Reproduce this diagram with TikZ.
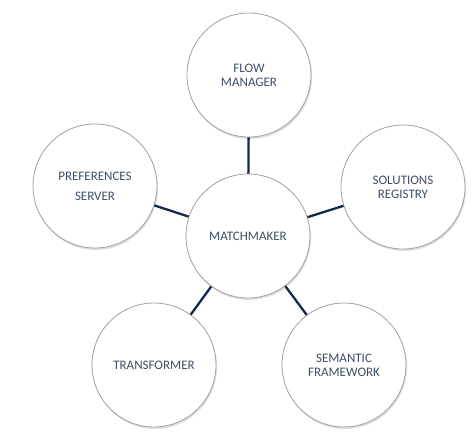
\documentclass[tikz,border=0pt]{standalone}
\usepackage{fontspec}
\setmainfont{Carlito}
\usepackage{xcolor}
\usepackage{tikz}
\usetikzlibrary{shadows}
\definecolor{labeltext}{RGB}{62,78,104}
\definecolor{linknavy}{RGB}{22,40,72}
\definecolor{rimgray}{RGB}{160,160,160}

\begin{document}
\begin{tikzpicture}[x=1pt,y=-1pt,
    part/.style={circle,draw=rimgray,line width=0.8pt,fill=white,
      minimum size=124pt,inner sep=0pt,align=center,text=labeltext,
      font=\fontsize{13}{14}\selectfont,
      drop shadow={shadow xshift=1pt,shadow yshift=-2pt,opacity=0.25,fill=gray}},
    link/.style={draw=linknavy,line width=2.3pt}]
    \useasboundingbox (0,0) rectangle (474,434);
    \node[part] (hub) at (248,236) {MATCHMAKER};
    \node[part] (flow) at (249,75) {FLOW\\MANAGER};
    \node[part] (prefs) at (95,186) {PREFERENCES\\[6pt]SERVER};
    \node[part] (registry) at (403,187) {SOLUTIONS\\REGISTRY};
    \node[part] (transf) at (154,365) {TRANSFORMER};
    \node[part] (semantic) at (344,365) {SEMANTIC\\FRAMEWORK};
    \draw[link] (hub) -- (flow);
    \draw[link] (hub) -- (prefs);
    \draw[link] (hub) -- (registry);
    \draw[link] (hub) -- (transf);
    \draw[link] (hub) -- (semantic);
  \end{tikzpicture}
\end{document}
